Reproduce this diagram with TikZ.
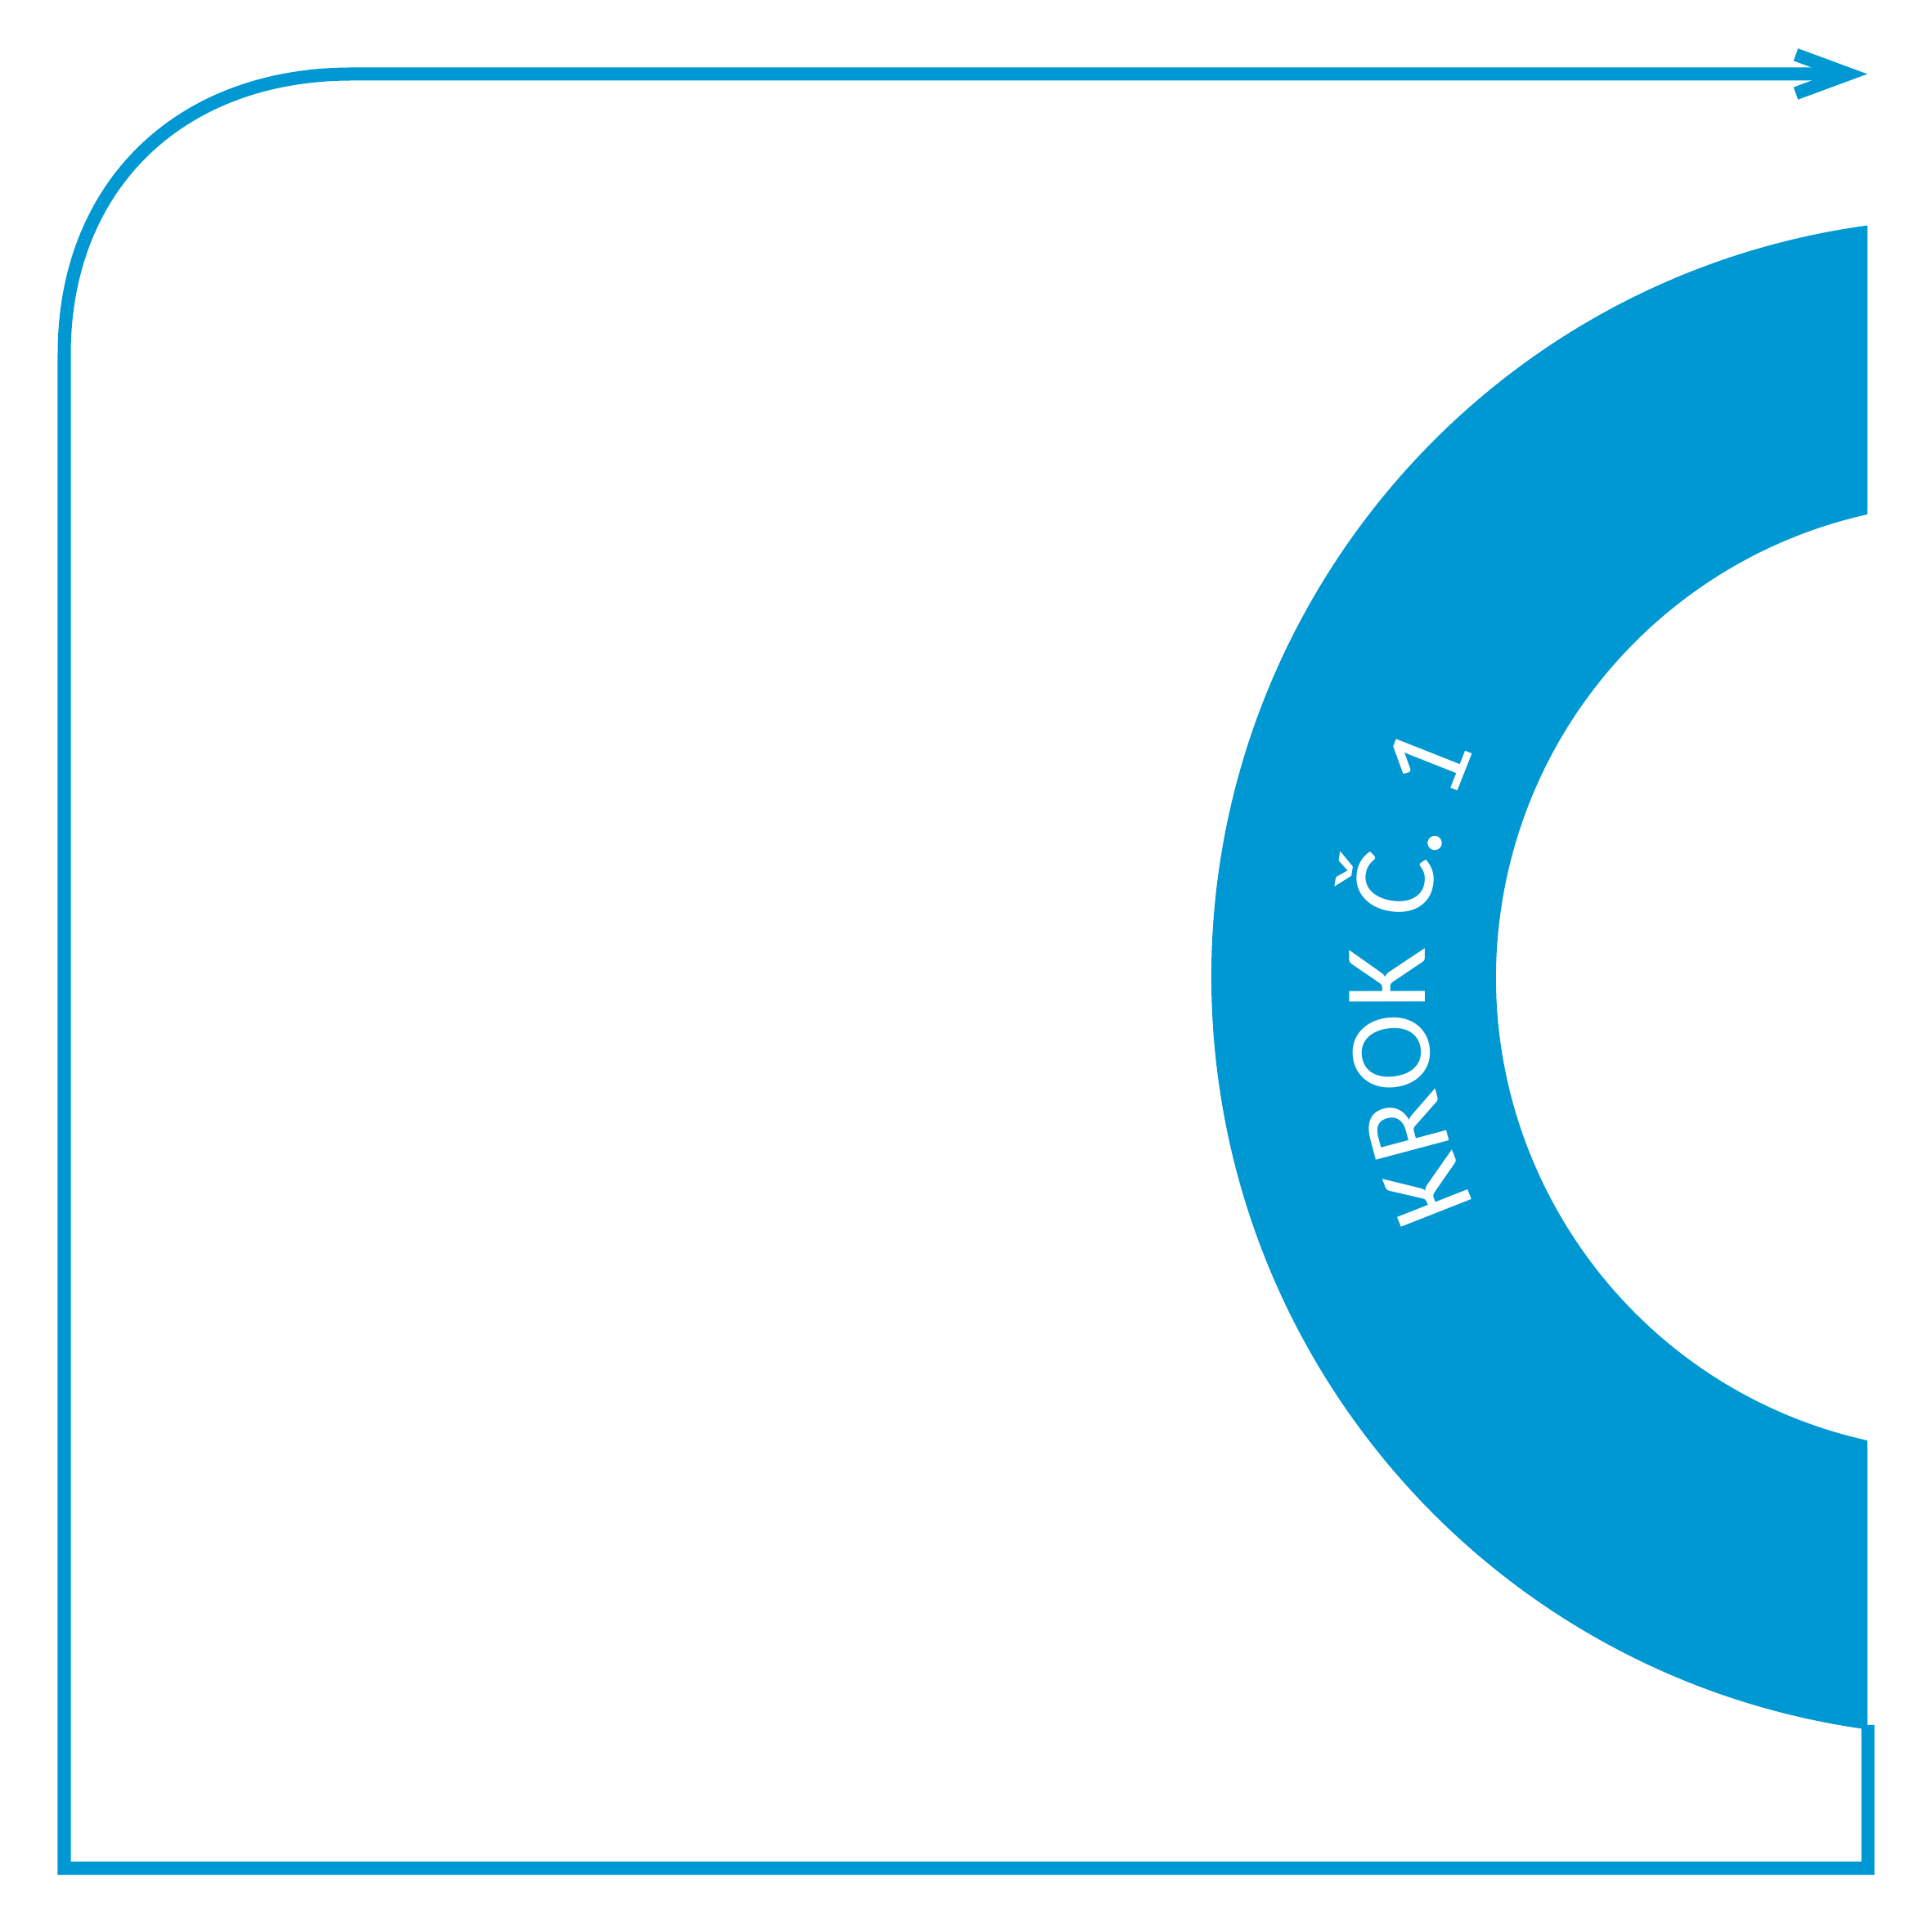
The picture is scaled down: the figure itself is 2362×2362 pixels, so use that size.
\documentclass[tikz,border=0pt]{standalone}
\usepackage{fontspec}
\setmainfont{Carlito}
\usepackage{tikz}
\usetikzlibrary{decorations.text}
\definecolor{krokblue}{HTML}{0098D3}

\begin{document}
\begin{tikzpicture}[x=0.01cm, y=0.01cm,
        frame/.style={draw=krokblue, line width=0.16cm}]
        \useasboundingbox (0,0) rectangle (2362,2362);

        % Points
        \coordinate (C) at (2409,1167);
        \coordinate (BR) at (2283.7,253);
        \coordinate (BRc) at (2283.7,78);
        \coordinate (BLc) at (78.5,78);
        \coordinate (TL) at (78.5,1929);
        \coordinate (TT) at (430,2271.5);
        \coordinate (E) at (2250,2271.5);
        \coordinate (WA) at (2195.5,2295.2);
        \coordinate (Tip) at (2259.7,2271.5);
        \coordinate (WB) at (2195.5,2247.8);

        % Ring
        \fill[krokblue] ([shift={(97.8:928)}]C) arc[start angle=97.8, end angle=262.2, radius=928]
            -- ([shift={(257.45:580)}]C) arc[start angle=257.45, end angle=102.55, radius=580] -- cycle;

        % Text
        \path[decorate, decoration={text along path, text align=center,
            text={|\fontsize{41pt}{41pt}\selectfont\color{white}|KROK Č. 1}}]
            ([shift={(210:667)}]C) arc[start angle=210, end angle=150, radius=667];

        % Frame and arrow
        \draw[frame] (BR) -- (BRc) -- (BLc) -- (TL) .. controls (78.5,2134) and (219,2271.5) .. (TT) -- (E);
        \draw[frame, line join=miter] (WA) -- (Tip) -- (WB);

\end{tikzpicture}
\end{document}
